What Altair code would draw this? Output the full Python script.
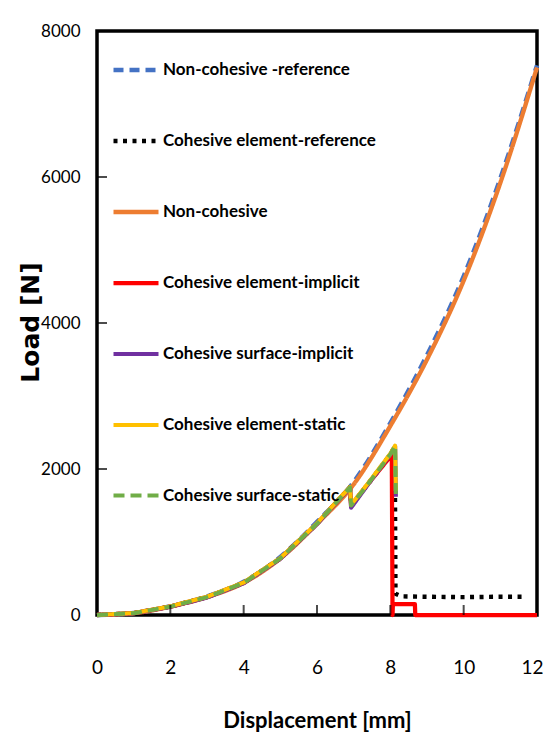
import altair as alt
import pandas as pd

series_names = [
    "Non-cohesive -reference",
    "Cohesive element-reference",
    "Non-cohesive",
    "Cohesive element-implicit",
    "Cohesive surface-implicit",
    "Cohesive element-static",
    "Cohesive surface-static",
]
series_colors = ["#4472C4", "#000000", "#ED7D31", "#FF0000", "#7030A0", "#FFC000", "#70AD47"]
series_dashes = [[10, 6], [4, 5.5], [1, 0], [1, 0], [1, 0], [1, 0], [11, 6]]
series_widths = [4.5, 4, 4, 5.5, 6, 6, 7]
series_interp = ["monotone", "linear", "monotone", "linear", "linear", "linear", "linear"]

# Non-cohesive reference (blue dashed)
ncr_x = [0, 1, 2, 3, 4, 5, 6, 7, 8, 9, 10, 11, 12]
ncr_y = [0, 27, 120, 255, 455, 795, 1275, 1820, 2630, 3560, 4640, 5980, 7530]

# Non-cohesive (orange)
nc_x = [0, 1, 2, 3, 4, 5, 6, 7, 8, 9, 10, 11, 12]
nc_y = [0, 25, 115, 245, 440, 775, 1250, 1790, 2590, 3500, 4580, 5920, 7500]

# Cohesive element reference (black dotted)
cer_x = [0, 1, 2, 3, 4, 5, 6, 6.5, 6.9, 6.93, 7.4, 8.0, 8.12, 8.14, 8.3, 9, 10, 11, 11.7]
cer_y = [0, 25, 115, 245, 440, 775, 1250, 1530, 1750, 1500, 1800, 2200, 2300, 290, 255, 250, 245, 250, 250]

# Cohesive element implicit (red)
cei_x = [0, 1, 2, 3, 4, 5, 6, 6.5, 6.9, 6.93, 7.4, 8.0, 8.04, 8.06, 8.07, 8.67, 8.68, 12]
cei_y = [0, 25, 115, 245, 440, 775, 1250, 1530, 1750, 1500, 1800, 2170, 2190, 0, 150, 150, 0, 0]

# Cohesive surface implicit (purple)
csi_x = [0, 1, 2, 3, 4, 5, 6, 6.5, 6.9, 6.93, 7.4, 8.0, 8.13, 8.15]
csi_y = [0, 25, 112, 240, 435, 770, 1245, 1525, 1745, 1470, 1795, 2200, 2310, 1620]

# Cohesive element static (yellow)
ces_x = [0, 1, 2, 3, 4, 5, 6, 6.5, 6.9, 6.93, 7.4, 8.0, 8.13, 8.15]
ces_y = [0, 27, 118, 250, 445, 780, 1255, 1535, 1755, 1510, 1810, 2210, 2320, 1700]

# Cohesive surface static (green dashed)
css_x = [0, 1, 2, 3, 4, 5, 6, 6.5, 6.9, 6.93, 7.4, 8.0, 8.13, 8.15]
css_y = [0, 25, 115, 245, 440, 775, 1250, 1530, 1750, 1500, 1800, 2200, 2320, 1650]

x_ticks = [0, 2, 4, 6, 8, 10, 12]
y_ticks = [0, 2000, 4000, 6000, 8000]
x_inner_ticks = [2, 4, 6, 8, 10]
y_inner_ticks = [2000, 4000, 6000]

all_x = [ncr_x, cer_x, nc_x, cei_x, csi_x, ces_x, css_x]
all_y = [ncr_y, cer_y, nc_y, cei_y, csi_y, ces_y, css_y]

rows = []
for name, xs, ys in zip(series_names, all_x, all_y):
    for i, (xv, yv) in enumerate(zip(xs, ys)):
        rows.append({"series": name, "disp": xv, "load": yv, "idx": i})
df = pd.DataFrame(rows)

NARROW = "Lato, Roboto, sans-serif"
WIDE = "DejaVu Sans, Verdana, sans-serif"

xscale = alt.Scale(domain=[0, 12], nice=False)
yscale = alt.Scale(domain=[0, 8000], nice=False)

base = alt.Chart(df).encode(
    x=alt.X("disp:Q", scale=xscale,
            axis=alt.Axis(title="Displacement [mm]", values=x_ticks, format="d",
                          labelPadding=43, labelFlush=False,
                          labelOffset={"condition": {"test": "datum.value == 12", "value": -5}, "value": 0},
                          titleFontSize=22, titleFont=NARROW, titleFontWeight="bold",
                          titleY=105, titleBaseline="middle",
                          labelFontSize=19, labelFont=NARROW)),
    y=alt.Y("load:Q", scale=yscale,
            axis=alt.Axis(title="Load [N]", values=y_ticks, format="d",
                          labelPadding=17, labelFlush=False,
                          titleFontSize=25, titleFont=WIDE, titleFontWeight="bold",
                          titleX=-67, titleY=291, titleBaseline="middle",
                          labelFontSize=17, labelFont=NARROW)),
    color=alt.Color("series:N", scale=alt.Scale(domain=series_names, range=series_colors),
                    legend=alt.Legend(title=None)),
    strokeDash=alt.StrokeDash("series:N", scale=alt.Scale(domain=series_names, range=series_dashes),
                              legend=alt.Legend(title=None)),
    strokeWidth=alt.StrokeWidth("series:N", scale=alt.Scale(domain=series_names, range=series_widths),
                                legend=alt.Legend(title=None)),
    order="idx:Q",
)

layers = [
    base.transform_filter(alt.datum.series == name).mark_line(strokeJoin="round", interpolate=interp)
    for name, interp in zip(series_names, series_interp)
]

xt = alt.Chart(pd.DataFrame({"v": x_inner_ticks})).mark_tick(
    color="black", thickness=2, size=10, yOffset=-5, orient="vertical"
).encode(x=alt.X("v:Q", scale=xscale), y=alt.value(584))

yt = alt.Chart(pd.DataFrame({"v": y_inner_ticks})).mark_tick(
    color="black", thickness=2, size=10, xOffset=5, orient="horizontal"
).encode(y=alt.Y("v:Q", scale=yscale), x=alt.value(0))

chart = alt.layer(*layers, xt, yt).properties(
    width=440, height=584,
    autosize=alt.AutoSizeParams(type="none"),
    padding={"left": 89, "top": 23, "right": 6, "bottom": 118},
).configure_view(
    stroke="black", strokeWidth=3.5
).configure_axis(
    grid=False, domain=False, ticks=False, labelColor="black", titleColor="black"
).configure_legend(
    orient="none", legendX=14, legendY=14, symbolType="stroke", symbolSize=2025,
    rowPadding=37, labelFontSize=17, labelFont=NARROW, labelFontWeight="bold",
    labelLimit=0, labelOffset=2, labelColor="black"
)

chart.save("out.html", embed_options={"renderer": "svg", "actions": False})
